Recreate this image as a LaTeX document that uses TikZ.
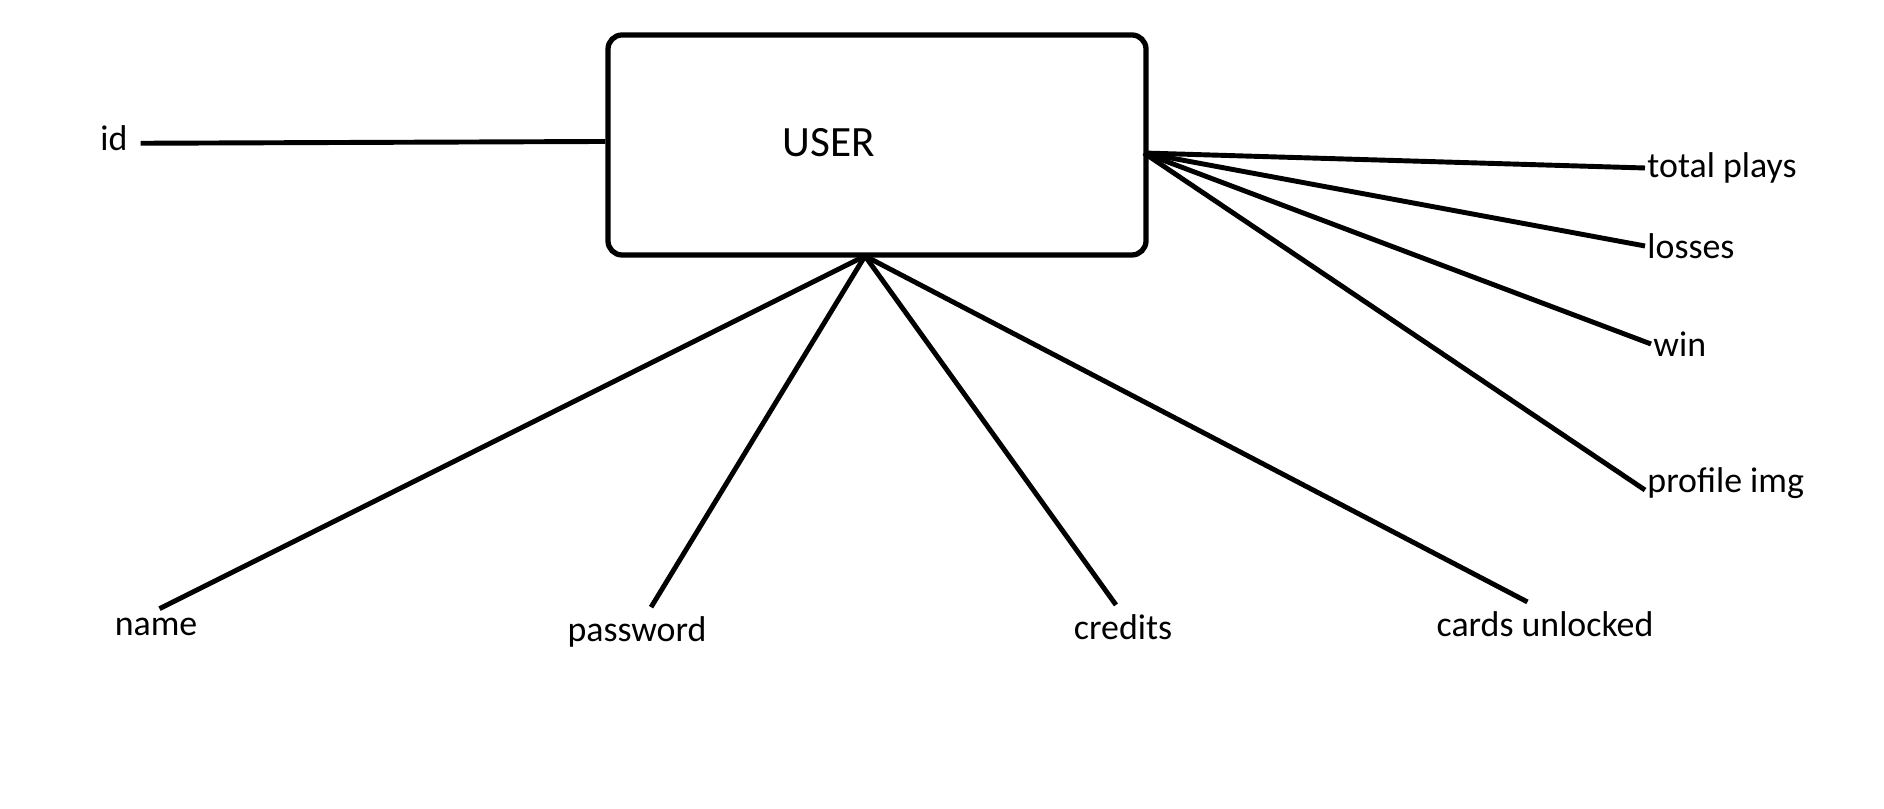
\documentclass[tikz,border=0pt]{standalone}
\usepackage{fontspec}
\setmainfont{Carlito}
\usepackage{tikz}

\begin{document}
\begin{tikzpicture}[entity/.style={draw,line width=1.5pt,rounded corners=4pt,minimum width=5.38cm,minimum height=2.2cm},attr/.style={font=\fontsize{10.2}{12}\selectfont,inner sep=0.5pt},link/.style={line width=1.4pt}]
            \useasboundingbox (0,0) rectangle (18.84,-8.09);
            \node[entity] (user) at (8.77,-1.45) {};
            \node[font=\fontsize{12.3}{15}\selectfont] (usertxt) at (8.29,-1.43) {USER};
            \coordinate (rhub) at (11.44,-1.53);
            \coordinate (bhub) at (8.65,-2.56);
            % attributes
            \node[attr] (id) at (1.14,-1.38) {id};
            \node[attr,anchor=west] (plays) at (16.45,-1.68) {total plays};
            \node[attr,anchor=west] (losses) at (16.45,-2.46) {losses};
            \node[attr,anchor=west] (win) at (16.51,-3.44) {win};
            \node[attr,anchor=west] (img) at (16.45,-4.83) {profile img};
            \node[attr] (name) at (1.56,-6.27) {name};
            \node[attr] (pass) at (6.37,-6.32) {password};
            \node[attr] (credits) at (11.23,-6.27) {credits};
            \node[attr] (cards) at (15.45,-6.24) {cards unlocked};
            % connectors
            \draw[link] ([xshift=3pt,yshift=-1.5pt]id.east) -- ([yshift=1pt]user.west);
            \draw[link] (rhub) -- (plays.west);
            \draw[link] (rhub) -- (losses.west);
            \draw[link] (rhub) -- (win.west);
            \draw[link] (rhub) -- ([yshift=-2pt]img.west);
            \draw[link] (bhub) -- ([xshift=1pt,yshift=2pt]name.north);
            \draw[link] (bhub) -- ([xshift=4pt,yshift=2pt]pass.north);
            \draw[link] (bhub) -- ([xshift=-2pt,yshift=2pt]credits.north);
            \draw[link] (bhub) -- ([xshift=-5pt,yshift=2pt]cards.north);
        \end{tikzpicture}
\end{document}
